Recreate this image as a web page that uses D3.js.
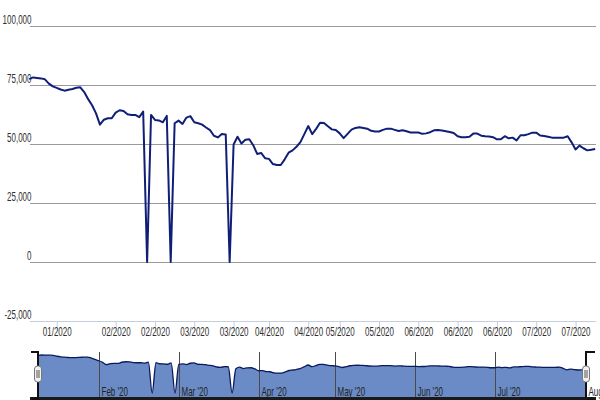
<!DOCTYPE html>
<html>
<head>
<meta charset="utf-8">
<script src="https://cdn.jsdelivr.net/npm/d3@7/dist/d3.min.js"></script>
<style>
  html, body { margin: 0; padding: 0; background: #fff; }
  svg { display: block; font-family: "Liberation Sans", Arial, sans-serif; }
</style>
</head>
<body>
<svg id="chart" width="600" height="400"></svg>
<script>
// ---- data (one value per trading day) ----
const values = [
  77500, 78200, 78000, 77800, 77400, 75600, 74400, 73800, 73100, 72600,
  73000, 73300, 73800, 74000, 72000, 69000, 66400, 63000, 58200, 60300,
  60900, 60900, 63300, 64300, 64000, 62600, 62300, 62300, 61400, 63700,
  0,     62300, 60200, 60000, 59200, 61900, 0,     58800, 59900, 58500,
  61200, 61800, 59200, 58800, 58200, 57000, 55900, 53500, 52800, 54200,
  54000, 0,     49800, 53100, 50200, 51800, 52000, 49500, 45800, 46200,
  44000, 43700, 41500, 41100, 41100, 43500, 46300, 47300, 48800, 50800,
  54200, 57600, 54200, 56400, 59000, 58900, 57500, 56200, 55900, 54500,
  52500, 54300, 56100, 56800, 57100, 56800, 56500, 55600, 55300, 55300,
  56000, 56500, 56500, 56000, 55500, 55800, 55400, 54900, 54900, 54900,
  54300, 54500, 55000, 55800, 55900, 55700, 55400, 55100, 54700, 53300,
  52900, 52900, 53100, 54400, 54400, 53500, 53300, 53200, 52900, 52000,
  52000, 53300, 52400, 52700, 51500, 53700, 53700, 54200, 54800, 54800,
  53600, 53400, 53100, 52700, 52700, 52700, 52700, 53300, 50700, 47700,
  49300, 48200, 47300, 47600, 47900
];
const yTicks = [-25000, 0, 25000, 50000, 75000, 100000];
const xTickIndex = [7, 22, 32, 42, 52, 61, 71, 79, 89, 99, 109, 119, 129, 139];
const xTickLabels = ["01/2020", "02/2020", "02/2020", "03/2020", "03/2020", "04/2020", "04/2020",
                     "05/2020", "05/2020", "06/2020", "06/2020", "06/2020", "07/2020", "07/2020"];
const navMonthIndex = [16, 37, 58, 78, 99, 120, 144];
const navMonthLabels = ["Feb '20", "Mar '20", "Apr '20", "May '20", "Jun '20", "Jul '20", "Aug"];

// ---- drawing ----
const SQ = 0.64;          // horizontal squeeze of the condensed labels
const FS = "12.5px";
const TXT = "#2e2e2e";
const svg = d3.select("#chart");
const plot = { left: 30, right: 596, top: 26, bottom: 321 };
const fmt = d3.formatLocale({ decimal: ".", thousands: ",", grouping: [3], currency: ["", ""], minus: "-" }).format(",");

const x = d3.scaleLinear().domain([0, values.length - 1]).range([plot.left - 0.8, plot.right - 0.8]);
const y = d3.scaleLinear().domain([-25000, 100000]).range([plot.bottom, plot.top]);

// grid lines + y labels
const yAxis = d3.axisLeft(y).tickValues(yTicks)
  .tickSize(-(plot.right - plot.left))
  .tickFormat(fmt);
const gy = svg.append("g").attr("transform", `translate(${plot.left},0)`).call(yAxis);
gy.select(".domain").remove();
gy.selectAll(".tick line").attr("stroke", "#9a9a9a").attr("stroke-width", 1);
gy.selectAll(".tick text")
  .attr("x", 1.5 / SQ).attr("dy", -2.5).attr("y", 0)
  .attr("text-anchor", "end")
  .attr("transform", `scale(${SQ},1)`)
  .attr("fill", TXT).style("font-size", FS);

// x axis
const xAxis = d3.axisBottom(x).tickValues(xTickIndex)
  .tickSize(10)
  .tickFormat((d, i) => xTickLabels[i]);
const gx = svg.append("g").attr("transform", `translate(0,${plot.bottom})`).call(xAxis);
gx.select(".domain").attr("stroke", "#c5cedd").attr("d", `M${plot.left},0.5H${plot.right}`);
gx.selectAll(".tick line").attr("stroke", "#c5cedd");
gx.selectAll(".tick text")
  .attr("fill", TXT).attr("y", 6.5).attr("dy", "0.71em")
  .attr("transform", `scale(${SQ},1)`)
  .style("font-size", FS);

// main line
const line = d3.line().x((d, i) => x(i)).y(d => y(d));
svg.append("path").datum(values)
  .attr("d", line)
  .attr("fill", "none")
  .attr("stroke", "#0f1f78")
  .attr("stroke-width", 2)
  .attr("stroke-linejoin", "round");

// ---- navigator ----
const nav = { left: 38, right: 586, top: 352, bottom: 397 };
const nx = d3.scaleLinear().domain([0, values.length - 1]).range([nav.left, nav.right]);
const ny = d3.scaleLinear().domain([0, d3.max(values)]).range([393, 355]);

const area = d3.area().curve(d3.curveMonotoneX)
  .x((d, i) => nx(i)).y0(nav.bottom).y1(d => ny(d));
const navLine = d3.line().curve(d3.curveMonotoneX)
  .x((d, i) => nx(i)).y(d => ny(d));

svg.append("path").datum(values).attr("d", area).attr("fill", "#6a8bc5");

// month separators & labels
const months = svg.append("g");
navMonthIndex.forEach((m, i) => {
  const xm = Math.round(nx(m)) + 0.5;
  months.append("line").attr("x1", xm).attr("x2", xm).attr("y1", nav.top).attr("y2", nav.bottom)
    .attr("stroke", "#4a4a4a").attr("stroke-width", 1);
  months.append("text")
    .attr("transform", `translate(${xm + 2},395.5) scale(${SQ},1)`)
    .attr("fill", "#222").style("font-size", FS).text(navMonthLabels[i]);
});

svg.append("path").datum(values).attr("d", navLine)
  .attr("fill", "none").attr("stroke", "#0b1a5e").attr("stroke-width", 1.3);

// outline brackets
svg.append("path")
  .attr("d", `M${plot.left + 1},${nav.top}H${nav.left}V${nav.bottom}M${nav.right},${nav.bottom}V${nav.top}H${plot.right - 1}`)
  .attr("fill", "none").attr("stroke", "#111").attr("stroke-width", 2);

// handles
[nav.left, nav.right].forEach(hx => {
  svg.append("rect").attr("x", hx - 3.5).attr("y", 366).attr("width", 7).attr("height", 16)
    .attr("rx", 3).attr("fill", "#f2f2f2").attr("stroke", "#777").attr("stroke-width", 1);
  svg.append("line").attr("x1", hx - 1).attr("x2", hx - 1).attr("y1", 370).attr("y2", 378)
    .attr("stroke", "#555");
  svg.append("line").attr("x1", hx + 1).attr("x2", hx + 1).attr("y1", 370).attr("y2", 378)
    .attr("stroke", "#555");
});

// scrollbar strip
svg.append("rect").attr("x", plot.left).attr("y", 397).attr("width", plot.right - plot.left).attr("height", 3)
  .attr("fill", "#1a1a1a");
svg.append("circle").attr("cx", 36).attr("cy", 401).attr("r", 4).attr("fill", "#111");
svg.append("circle").attr("cx", 591).attr("cy", 401).attr("r", 4).attr("fill", "#111");
</script>
</body>
</html>
